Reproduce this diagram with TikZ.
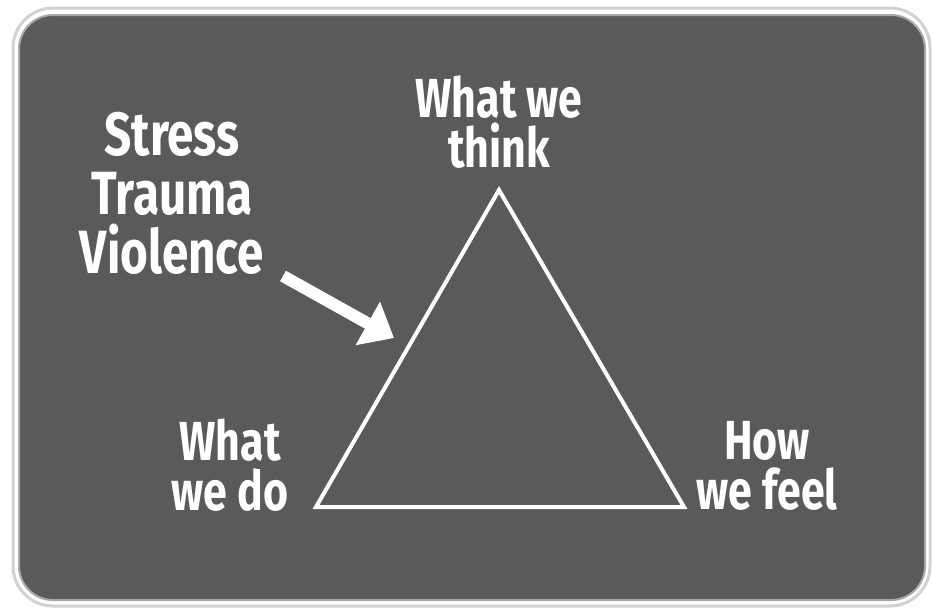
\documentclass[tikz,border=0pt]{standalone}
\usepackage{fontspec}
\newfontfamily\labelfont{Fira Sans}[FakeStretch=0.78]
\usetikzlibrary{arrows.meta}
\definecolor{panel}{HTML}{5A5A5C}
\definecolor{rim}{HTML}{D2D2D2}
\tikzset{
  panel box/.style={
    fill=panel,
    draw=rim!80!black,
    line width=2pt,
    rounded corners=34pt
  },
  outer rim/.style={
    draw=rim,
    line width=3pt,
    fill=white,
    rounded corners=40pt
  },
  corner label/.style={
    text=white,
    align=center,
    inner sep=0pt,
    anchor=base,
    font=\labelfont\bfseries\fontsize{55}{50}\selectfont
  },
  cause label/.style={
    corner label,
    font=\labelfont\bfseries\fontsize{61}{59}\selectfont
  },
  cycle line/.style={
    draw=white,
    line width=4pt,
    line join=miter
  },
  push arrow/.style={
    -{Triangle[length=30pt, width=48pt]},
    draw=white,
    fill=white,
    line width=12pt
  }
}
\begin{document}
\begin{tikzpicture}[x=1pt, y=-1pt]
  \useasboundingbox (0,0) rectangle (933,611);

  % frame and dark panel
  \draw[outer rim] (13,8) rectangle (930,606);
  \draw[panel box] (19,15) rectangle (925,600);

  % triangle corners
  \coordinate (think) at (499,190);
  \coordinate (do) at (316,507);
  \coordinate (feel) at (684,507);
  \draw[cycle line] (think) -- (do) -- (feel) -- cycle;

  % labels (base = last line)
  \node[corner label] (thinklbl) at (499,167) {What we\\think};
  \node[corner label] (dolbl) at (230,510) {What\\we do};
  \node[corner label] (feellbl) at (767,509) {How\\we feel};
  \node[cause label] (cause) at (172,273) {Stress\\Trauma\\Violence};

  % arrow into the triangle
  \coordinate (push tail) at (283,276);
  \coordinate (push tip) at (394,338);
  \draw[push arrow] (push tail) -- (push tip);
\end{tikzpicture}
\end{document}
